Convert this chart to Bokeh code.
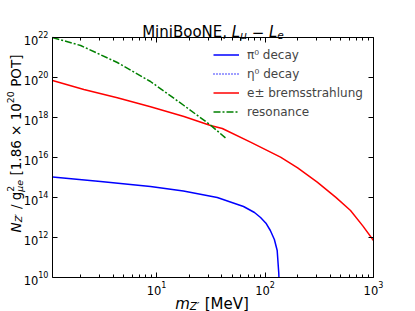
import math
from bokeh.plotting import figure
from bokeh.models import Label, LogAxis, FixedTicker, Legend, LegendItem, Range1d, CustomJSTickFormatter
from bokeh.embed import file_html
from bokeh.resources import INLINE

# ---- data ----
x_pi = [1.1, 3.05, 8.8, 17.7, 36.3, 63.4, 80.0, 91.0, 102.0, 112.0, 122.0, 129.5, 134.0, 134.4]
y_pi = [1.05e15, 6.31e14, 3.55e14, 2.09e14, 1.0e14, 3.55e13, 1.78e13, 1.0e13, 5.2e12, 2.24e12, 7.9e11, 2.24e11, 1.58e10, 1.0e10]

# eta0 decay: in the legend only, no visible curve in the reference
x_eta = [1.1]
y_eta = [float("nan")]

x_br = [1.1, 2.14, 4.35, 8.8, 17.9, 31.5, 40.4, 73.5, 139.0, 200.0, 303.0, 450.0, 614.0, 800.0, 1000.0]
y_br = [7.08e19, 2.51e19, 9.77e18, 3.47e18, 1.12e18, 3.98e17, 2.82e17, 5.89e16, 1.05e16, 3.0e15, 5.89e14, 1.02e14, 2.24e13, 3.7e12, 7.08e11]

x_res = [1.1, 2.0, 4.35, 8.8, 17.9, 31.5, 43.2]
y_res = [1.0e22, 3.98e21, 5.62e20, 6.31e19, 3.98e18, 4.17e17, 9.55e16]

x_lim = (1.1, 1000)
y_lim = (1e10, 1e22)
x_major = [10, 100, 1000]
x_minor = [2, 3, 4, 5, 6, 7, 8, 9, 20, 30, 40, 50, 60, 70, 80, 90, 200, 300, 400, 500, 600, 700, 800, 900]
y_major = [1e10, 1e12, 1e14, 1e16, 1e18, 1e20, 1e22]

legend_labels = ["π⁰ decay", "η⁰ decay", "e± bremsstrahlung", "resonance"]

FONT = "DejaVu Sans"

# canvas & axes box (pixels)
W, H = 415, 311
BL, BR, BT, BB = 52, 373, 37, 277

dx = (BR - BL) / math.log10(x_lim[1] / x_lim[0])
dy = (BB - BT) / math.log10(y_lim[1] / y_lim[0])
x_start = 10 ** (math.log10(x_lim[0]) - BL / dx)
x_end = 10 ** (math.log10(x_lim[1]) + (W - BR) / dx)
y_start = 10 ** (math.log10(y_lim[0]) - (H - BB) / dy)
y_end = 10 ** (math.log10(y_lim[1]) + BT / dy)

p = figure(width=W, height=H, x_axis_type="log", y_axis_type="log",
           x_range=Range1d(x_start, x_end), y_range=Range1d(y_start, y_end),
           x_axis_location=None, y_axis_location=None,
           output_backend="svg", toolbar_location=None, title=None, min_border=0)
p.grid.visible = False
p.outline_line_color = None
p.background_fill_color = "white"
p.border_fill_color = "white"

r_pi = p.line(x_pi, y_pi, line_color="#0000ff", line_width=1.5)
r_eta = p.line(x_eta, y_eta, line_color="#0000ff", line_width=1.5, line_dash="1 2")
r_br = p.line(x_br, y_br, line_color="#ff0000", line_width=1.5)
r_res = p.line(x_res, y_res, line_color="#008000", line_width=1.5, line_dash="7 2 2 2")


def make_axis(loc, bounds, ticks, minor, show_labels, standoff):
    ax = LogAxis(fixed_location=loc, bounds=bounds,
                 ticker=FixedTicker(ticks=ticks, minor_ticks=minor))
    ax.major_tick_in = 5
    ax.major_tick_out = 0
    ax.minor_tick_in = 3
    ax.minor_tick_out = 0
    ax.axis_line_color = "black"
    ax.major_tick_line_color = "black"
    ax.minor_tick_line_color = "black"
    ax.major_label_text_font = FONT
    ax.major_label_text_color = "black"
    ax.major_label_text_font_size = "11.5px"
    ax.major_label_standoff = standoff
    if not show_labels:
        ax.formatter = CustomJSTickFormatter(code="return ''")
    return ax


p.add_layout(make_axis(y_lim[0], x_lim, x_major, x_minor, True, 3), "below")
p.add_layout(make_axis(y_lim[1], x_lim, x_major, x_minor, False, 0), "above")
p.add_layout(make_axis(x_lim[0], y_lim, y_major, [], True, 4), "left")
p.add_layout(make_axis(x_lim[1], y_lim, y_major, [], False, 0), "right")

legend = Legend(items=[LegendItem(label=legend_labels[0], renderers=[r_pi]),
                       LegendItem(label=legend_labels[1], renderers=[r_eta]),
                       LegendItem(label=legend_labels[2], renderers=[r_br]),
                       LegendItem(label=legend_labels[3], renderers=[r_res])],
                location=(213, H - 121), margin=0, padding=0, spacing=0,
                glyph_width=26, glyph_height=19, label_height=19, label_standoff=8,
                label_text_font=FONT, label_text_font_size="12px",
                border_line_alpha=0, background_fill_alpha=0)
p.add_layout(legend)

# ---- composed texts (title, axis labels) ----
ADV = {" ": .318, "/": .337, "[": .390, "]": .390, ".": .318, ",": .318,
       "0": .636, "1": .636, "2": .636, "3": .636, "4": .636, "5": .636, "6": .636,
       "7": .636, "8": .636, "9": .636, "×": .838, "−": .838,
       "M": .863, "i": .278, "n": .634, "B": .686, "o": .612, "N": .748, "E": .632,
       "L": .557, "e": .615, "μ": .636, "g": .635, "P": .603, "O": .787, "T": .611,
       "Z": .685, "m": .974, "V": .684, "′": .27}


def adv(s, size):
    return size * sum(ADV.get(c, 0.6) for c in s)


def add_run(pieces, x0, y0, vertical=False):
    # pieces: (text, size, shift_up, italic, advance_or_None); x0,y0 in canvas px (y down)
    pos = 0.0
    for text, size, up, italic, a in pieces:
        lead = len(text) - len(text.lstrip(" "))
        shown = text.strip(" ")
        off = pos + adv(" " * lead, size)
        if vertical:
            x, y, ang = x0 - up, H - (y0 - off), math.pi / 2
        else:
            x, y, ang = x0 + off, H - (y0 - up), 0
        p.add_layout(Label(x=x, y=y, x_units="screen", y_units="screen", text=shown, angle=ang,
                           text_font=FONT, text_font_size=f"{size}px",
                           text_font_style="italic" if italic else "normal",
                           text_baseline="alphabetic", text_align="left", text_color="black"))
        pos += adv(text, size) if a is None else a


def run_len(pieces):
    return sum(adv(t, s) if a is None else a for t, s, u, i, a in pieces)


# title
T, t = 15, 10.5
title_p = [("MiniBooNE, ", T, 0, False, None), ("L", T, 0, True, None), ("μ", t, -3, True, None),
           (" − ", T, 0, False, None), ("L", T, 0, True, None), ("e", t, -3, True, None)]
add_run(title_p, 212.5 - run_len(title_p) / 2, 31.7)

# x label
xl_p = [("m", T, 0, True, None), ("Z′", t, -2, True, None), (" [MeV]", T, 0, False, None)]
add_run(xl_p, 211.5 - run_len(xl_p) / 2, 303.5)

# y label (reads bottom to top)
Y, yv = 13.5, 9.45
yl_p = [("N", Y, 0, True, None), ("Z′", yv, -3, True, None), (" / g", Y, 0, False, None),
        ("2", yv, 5.5, False, 0.0), ("μe", yv, -3.5, True, None),
        (" [1.86 × 10", Y, 0, False, None), ("20", yv, 5.5, False, None), (" POT]", Y, 0, False, None)]
add_run(yl_p, 15, 143 + run_len(yl_p) / 2, vertical=True)

open("out.html", "w").write(file_html(p, INLINE))
